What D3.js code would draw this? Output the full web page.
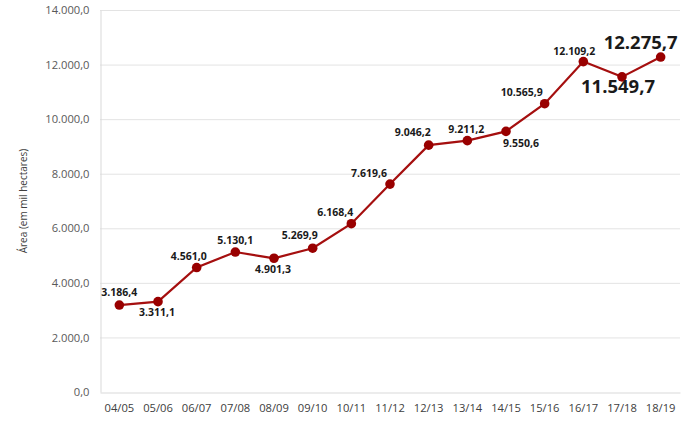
<!DOCTYPE html>
<html><head><meta charset="utf-8">
<script src="https://cdn.jsdelivr.net/npm/d3@7"></script>
<style>body{margin:0;background:#fff}svg{display:block}</style>
</head><body>
<script>
const categories = ["04/05","05/06","06/07","07/08","08/09","09/10","10/11","11/12","12/13","13/14","14/15","15/16","16/17","17/18","18/19"];
const values = [3186.4,3311.1,4561.0,5130.1,4901.3,5269.9,6168.4,7619.6,9046.2,9211.2,9550.6,10565.9,12109.2,11549.7,12275.7];
const yTicks = [0,2000,4000,6000,8000,10000,12000,14000];
// label placement: [dx, dy, big]
const labelPlace = [[0,-9,0],[-1,14,0],[-8,-8,0],[0,-8,0],[-1,15,0],[-13,-9,0],[-16,-8,0],[-21,-7,0],[-16,-9,0],[-1,-8,0],[15,16,0],[-23,-8,0],[-9,-7,0],[-4,16,1],[-20,-8,1]];

const W=692,H=422;
const m={l:100,r:12,t:10,b:30};
const svg=d3.select("body").append("svg").attr("width",W).attr("height",H);
const x=d3.scaleBand().domain(categories).range([m.l,W-m.r]).padding(0);
const y=d3.scaleLinear().domain([0,14000]).range([H-m.b,m.t]);
const fmt=v=>{const s=d3.format(",.1f")(v);return s.replace(/,/g,"#").replace(".",",").replace(/#/g,".");};
const font="'Open Sans', 'Liberation Sans', sans-serif";

// grid
svg.append("g").selectAll("line").data(yTicks.filter(d=>d>0)).join("line")
 .attr("x1",m.l).attr("x2",W-m.r).attr("y1",d=>y(d)+0.5).attr("y2",d=>y(d)+0.5)
 .attr("stroke","#e3e3e3").attr("stroke-width",1);

const ya=svg.append("g").attr("transform",`translate(${m.l+0.5},0)`)
 .call(d3.axisLeft(y).tickValues(yTicks).tickFormat(fmt).tickSize(0).tickPadding(11));
ya.select(".domain").attr("stroke","#d9d9d9");
ya.selectAll("text").attr("font-family",font).attr("font-size","11.2px").attr("fill","#595959");

const xa=svg.append("g").attr("transform",`translate(0,${H-m.b+0.5})`)
 .call(d3.axisBottom(x).tickSize(0).tickPadding(12));
xa.select(".domain").attr("stroke","#d9d9d9");
xa.selectAll("text").attr("font-family",font).attr("font-size","11.2px").attr("fill","#404040");

svg.append("text").attr("transform",`translate(27,${(m.t+H-m.b)/2}) rotate(-90)`)
 .attr("text-anchor","middle").attr("font-family",font).attr("font-size","10px").attr("fill","#404040")
 .text("Área (em mil hectares)");

const cx=(d,i)=>x(categories[i])+x.bandwidth()/2;
const line=d3.line().x((d,i)=>cx(d,i)).y(d=>y(d));
svg.append("path").datum(values).attr("d",line).attr("fill","none").attr("stroke","#a50f0f").attr("stroke-width",2.2);
svg.append("g").selectAll("circle").data(values).join("circle")
 .attr("cx",cx).attr("cy",d=>y(d)).attr("r",4.8).attr("fill","#990000");

svg.append("g").selectAll("text").data(values).join("text")
 .attr("x",(d,i)=>cx(d,i)+labelPlace[i][0]).attr("y",(d,i)=>y(d)+labelPlace[i][1])
 .attr("text-anchor","middle").attr("font-family",font).attr("font-weight","bold")
 .attr("font-size",(d,i)=>labelPlace[i][2]?"18.5px":"10.5px").attr("fill","#1a1a1a")
 .text(fmt);
</script>
</body></html>
